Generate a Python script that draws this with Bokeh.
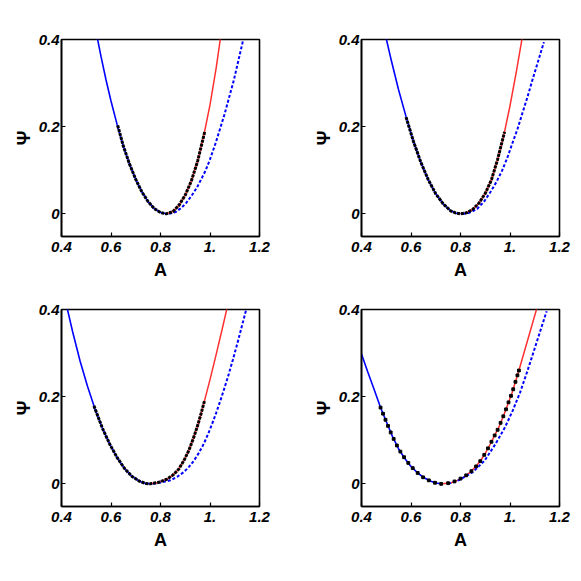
from bokeh.plotting import figure
from bokeh.layouts import gridplot
from bokeh.models import Range1d, FixedTicker
from bokeh.embed import file_html
from bokeh.resources import INLINE

# ---------------- data ----------------
x_ticks = [0.4, 0.6, 0.8, 1.0, 1.2]
x_tick_labels = ["0.4", "0.6", "0.8", "1.", "1.2"]
y_ticks = [0.0, 0.2, 0.4]
y_tick_labels = ["0", "0.2", "0.4"]

# panel 1
blue1_x = [0.540, 0.560, 0.580, 0.600, 0.625, 0.650, 0.675, 0.700, 0.725, 0.750, 0.775, 0.800, 0.823]
blue1_y = [0.417, 0.360, 0.307, 0.259, 0.204, 0.155, 0.114, 0.079, 0.050, 0.028, 0.012, 0.003, 0.000]
red1_x = [0.823, 0.850, 0.875, 0.900, 0.925, 0.950, 0.975, 1.000, 1.025, 1.045]
red1_y = [0.000, 0.005, 0.020, 0.043, 0.076, 0.121, 0.180, 0.250, 0.335, 0.414]
dash1_x = [0.835, 0.861, 0.880, 0.901, 0.925, 0.948, 0.982, 1.000, 1.022, 1.059, 1.096, 1.134]
dash1_y = [0.000, 0.004, 0.012, 0.023, 0.041, 0.061, 0.099, 0.125, 0.161, 0.229, 0.306, 0.399]
dots1_x = [0.627, 0.650, 0.675, 0.700, 0.725, 0.750, 0.775, 0.800, 0.823, 0.850, 0.875, 0.900, 0.925, 0.950, 0.979]
dots1_y = [0.203, 0.155, 0.114, 0.079, 0.050, 0.028, 0.012, 0.003, 0.000, 0.005, 0.020, 0.043, 0.076, 0.121, 0.189]

# panel 2
blue2_x = [0.495, 0.520, 0.550, 0.580, 0.610, 0.640, 0.670, 0.700, 0.730, 0.760, 0.780, 0.800]
blue2_y = [0.414, 0.353, 0.284, 0.223, 0.166, 0.118, 0.078, 0.046, 0.023, 0.007, 0.002, 0.000]
red2_x = [0.800, 0.825, 0.850, 0.875, 0.900, 0.925, 0.950, 0.975, 1.000, 1.025, 1.052]
red2_y = [0.000, 0.0025, 0.0105, 0.025, 0.047, 0.078, 0.125, 0.180, 0.248, 0.324, 0.413]
dash2_x = [0.810, 0.834, 0.867, 0.895, 0.921, 0.945, 0.968, 0.990, 1.009, 1.030, 1.049, 1.070, 1.090, 1.137]
dash2_y = [0.000, 0.002, 0.011, 0.028, 0.050, 0.073, 0.099, 0.130, 0.161, 0.194, 0.229, 0.267, 0.306, 0.394]
dots2_x = [0.580, 0.610, 0.640, 0.670, 0.700, 0.730, 0.760, 0.780, 0.800, 0.825, 0.850, 0.875, 0.900, 0.925, 0.950, 0.978]
dots2_y = [0.222, 0.166, 0.118, 0.078, 0.046, 0.023, 0.007, 0.002, 0.000, 0.0025, 0.0105, 0.025, 0.047, 0.078, 0.125, 0.188]

# panel 3
blue3_x = [0.415, 0.445, 0.475, 0.505, 0.535, 0.565, 0.595, 0.625, 0.655, 0.685, 0.715, 0.740, 0.757]
blue3_y = [0.422, 0.349, 0.282, 0.224, 0.172, 0.128, 0.091, 0.060, 0.035, 0.017, 0.006, 0.001, 0.000]
red3_x = [0.757, 0.790, 0.827, 0.850, 0.874, 0.895, 0.914, 0.932, 0.948, 0.963, 0.978, 1.000, 1.025, 1.050, 1.072]
red3_y = [0.000, 0.003, 0.011, 0.020, 0.034, 0.054, 0.076, 0.103, 0.130, 0.159, 0.191, 0.239, 0.297, 0.357, 0.411]
dash3_x = [0.770, 0.800, 0.840, 0.867, 0.894, 0.915, 0.935, 0.955, 0.975, 0.992, 1.009, 1.025, 1.042, 1.059, 1.076, 1.093, 1.110, 1.145]
dash3_y = [0.000, 0.003, 0.008, 0.016, 0.027, 0.039, 0.053, 0.071, 0.092, 0.114, 0.138, 0.163, 0.191, 0.221, 0.252, 0.286, 0.321, 0.397]
dots3_x = [0.531, 0.565, 0.595, 0.625, 0.655, 0.685, 0.715, 0.740, 0.757, 0.790, 0.827, 0.850, 0.874, 0.895, 0.914, 0.932, 0.948, 0.963, 0.978]
dots3_y = [0.179, 0.128, 0.091, 0.060, 0.035, 0.017, 0.006, 0.001, 0.000, 0.003, 0.011, 0.020, 0.034, 0.054, 0.076, 0.103, 0.130, 0.159, 0.191]

# panel 4
blue4_x = [0.400, 0.425, 0.450, 0.477, 0.500, 0.525, 0.550, 0.575, 0.600, 0.625, 0.650, 0.675, 0.700, 0.726]
blue4_y = [0.298, 0.257, 0.218, 0.175, 0.143, 0.109, 0.080, 0.058, 0.040, 0.026, 0.015, 0.007, 0.002, 0.000]
red4_x = [0.726, 0.760, 0.787, 0.815, 0.840, 0.861, 0.881, 0.901, 0.921, 0.938, 0.955, 0.982, 1.009, 1.036, 1.070, 1.110]
red4_y = [0.000, 0.002, 0.008, 0.016, 0.027, 0.039, 0.053, 0.071, 0.092, 0.111, 0.130, 0.168, 0.210, 0.260, 0.327, 0.406]
dash4_x = [0.750, 0.792, 0.850, 0.897, 0.942, 0.980, 1.011, 1.041, 1.071, 1.109, 1.148]
dash4_y = [0.000, 0.008, 0.027, 0.053, 0.092, 0.130, 0.168, 0.210, 0.260, 0.327, 0.396]
dots4_x = [0.477, 0.487, 0.497, 0.507, 0.518, 0.530, 0.543, 0.557, 0.572, 0.589, 0.607, 0.627, 0.649, 0.672,
           0.697, 0.722, 0.750, 0.776, 0.800, 0.823, 0.844, 0.863, 0.880, 0.896, 0.911, 0.925, 0.938, 0.950,
           0.962, 0.973, 0.984, 0.994, 1.004, 1.013, 1.022, 1.030, 1.036]
dots4_y = [0.175, 0.161, 0.147, 0.133, 0.118, 0.103, 0.088, 0.074, 0.061, 0.048, 0.036, 0.025, 0.015, 0.008,
           0.0025, 0.000, 0.0015, 0.0055, 0.012, 0.0195, 0.029, 0.040, 0.052, 0.0665, 0.0815, 0.0965, 0.111, 0.124,
           0.140, 0.155, 0.171, 0.187, 0.202, 0.217, 0.234, 0.249, 0.260]

panels = [
    (blue1_x, blue1_y, red1_x, red1_y, dash1_x, dash1_y, dots1_x, dots1_y),
    (blue2_x, blue2_y, red2_x, red2_y, dash2_x, dash2_y, dots2_x, dots2_y),
    (blue3_x, blue3_y, red3_x, red3_y, dash3_x, dash3_y, dots3_x, dots3_y),
    (blue4_x, blue4_y, red4_x, red4_y, dash4_x, dash4_y, dots4_x, dots4_y),
]

FONT = "Liberation Sans"


def make_panel(idx, data):
    bx, by, rx, ry, dx, dy, kx, ky = data
    col = idx % 2
    row = idx // 2
    p = figure(frame_width=198, frame_height=197, output_backend="svg", toolbar_location=None,
               x_range=Range1d(0.4, 1.2), y_range=Range1d(-0.052, 0.4),
               min_border_left=61 if col == 0 else 71,
               min_border_right=31 if col == 0 else 13,
               min_border_top=39 if row == 0 else 26,
               min_border_bottom=47 if row == 0 else 58)
    p.background_fill_color = "white"
    p.border_fill_color = "white"
    p.outline_line_color = "black"
    p.outline_line_width = 1.6
    p.xgrid.visible = False
    p.ygrid.visible = False

    p.line(bx, by, line_color="#0000ff", line_width=1.6)
    p.line(rx, ry, line_color="#ff3030", line_width=1.5)
    p.line(dx, dy, line_color="#0000ff", line_width=2.0, line_dash="3 2")
    if idx < 3:
        p.line(kx, ky, line_color="black", line_width=3.0, line_dash="3 1")
    else:
        p.scatter(kx, ky, marker="square", size=2.8, color="black")

    for ax, ticks, labels in ((p.xaxis[0], x_ticks, x_tick_labels), (p.yaxis[0], y_ticks, y_tick_labels)):
        ax.ticker = FixedTicker(ticks=ticks)
        ax.major_label_overrides = {t: l for t, l in zip(ticks, labels)}
        ax.major_tick_in = 4
        ax.major_tick_out = 0
        ax.minor_tick_in = 0
        ax.minor_tick_out = 0
        ax.axis_line_width = 1.6
        ax.axis_line_color = "black"
        ax.major_tick_line_width = 1.2
        ax.major_label_text_font = FONT
        ax.major_label_text_font_style = "bold italic"
        ax.major_label_text_font_size = "15px"
        ax.major_label_text_color = "black"
        ax.axis_label_text_font = FONT
        ax.axis_label_text_font_style = "bold"
        ax.axis_label_text_font_size = "18px"
        ax.axis_label_text_color = "black"
    p.xaxis.axis_label = "A"
    p.yaxis.axis_label = "Ψ"
    p.xaxis.major_label_standoff = 5
    p.yaxis.major_label_standoff = 2
    p.xaxis.axis_label_standoff = 5
    p.yaxis.axis_label_standoff = 2
    return p


figs = [make_panel(i, d) for i, d in enumerate(panels)]
grid = gridplot([[figs[0], figs[1]], [figs[2], figs[3]]], toolbar_location=None)

open("out.html", "w").write(file_html(grid, INLINE))
